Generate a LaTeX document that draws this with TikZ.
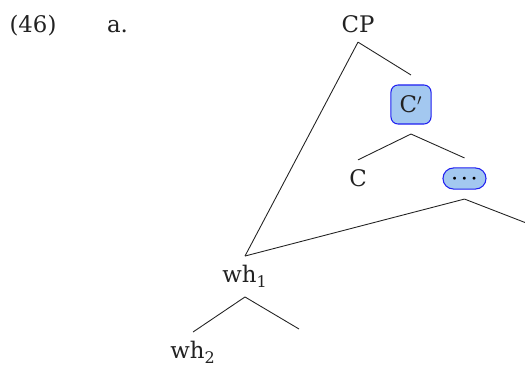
\documentclass[tikz,border=0pt]{standalone}
\usepackage{fontspec}
\setmainfont{DejaVu Serif}
\usepackage{tikz}
\definecolor{ink}{HTML}{222222}
\definecolor{hlfill}{HTML}{A3C8F0}
\definecolor{hldraw}{HTML}{2020F0}

\begin{document}
\begin{tikzpicture}[x=0.02cm, y=-0.02cm, font=\fontsize{13}{15}\selectfont,
  lbl/.style={inner sep=5.2pt, text=ink},
  hl/.style={draw=hldraw, fill=hlfill, line width=0.6pt, rounded corners=4pt, inner sep=0pt, outer sep=5.7pt, text=ink},
  branch/.style={draw=ink, line width=0.5pt}]
\useasboundingbox (0,0) rectangle (525,365);
\node[text=ink, anchor=base] (exnum) at (33,32) {(46)};
\node[text=ink, anchor=base] (exlet) at (117.5,32) {a.};
\node[lbl] (cp) at (358,24) {CP};
\node[hl, minimum width=22.8pt, minimum height=22.2pt] (cbar) at (411,104.5) {C$'$};
\node[lbl] (c) at (358,178) {C};
\node[hl, minimum width=24.5pt, minimum height=12pt, rounded corners=6pt, font=\fontsize{11}{11}\selectfont\boldmath, text=black] (rest) at (464.5,178.5) {$\cdots$};
\node[lbl] (wha) at (245,276.5) {wh\textsubscript{1}};
\node[lbl] (whb) at (193,352.5) {wh\textsubscript{2}};
\coordinate (cut) at (525,222.5);
\coordinate (gap) at (299,329);
\draw[branch] (cp.south) -- (cbar.north);
\draw[branch] (cp.south) -- (wha.north);
\draw[branch] (cbar.south) -- (c.north);
\draw[branch] (cbar.south) -- (rest.north);
\draw[branch] (rest.south) -- (wha.north);
\draw[branch] (rest.south) -- (cut);
\draw[branch] (wha.south) -- (whb.north);
\draw[branch] (wha.south) -- (gap);
\end{tikzpicture}
\end{document}
